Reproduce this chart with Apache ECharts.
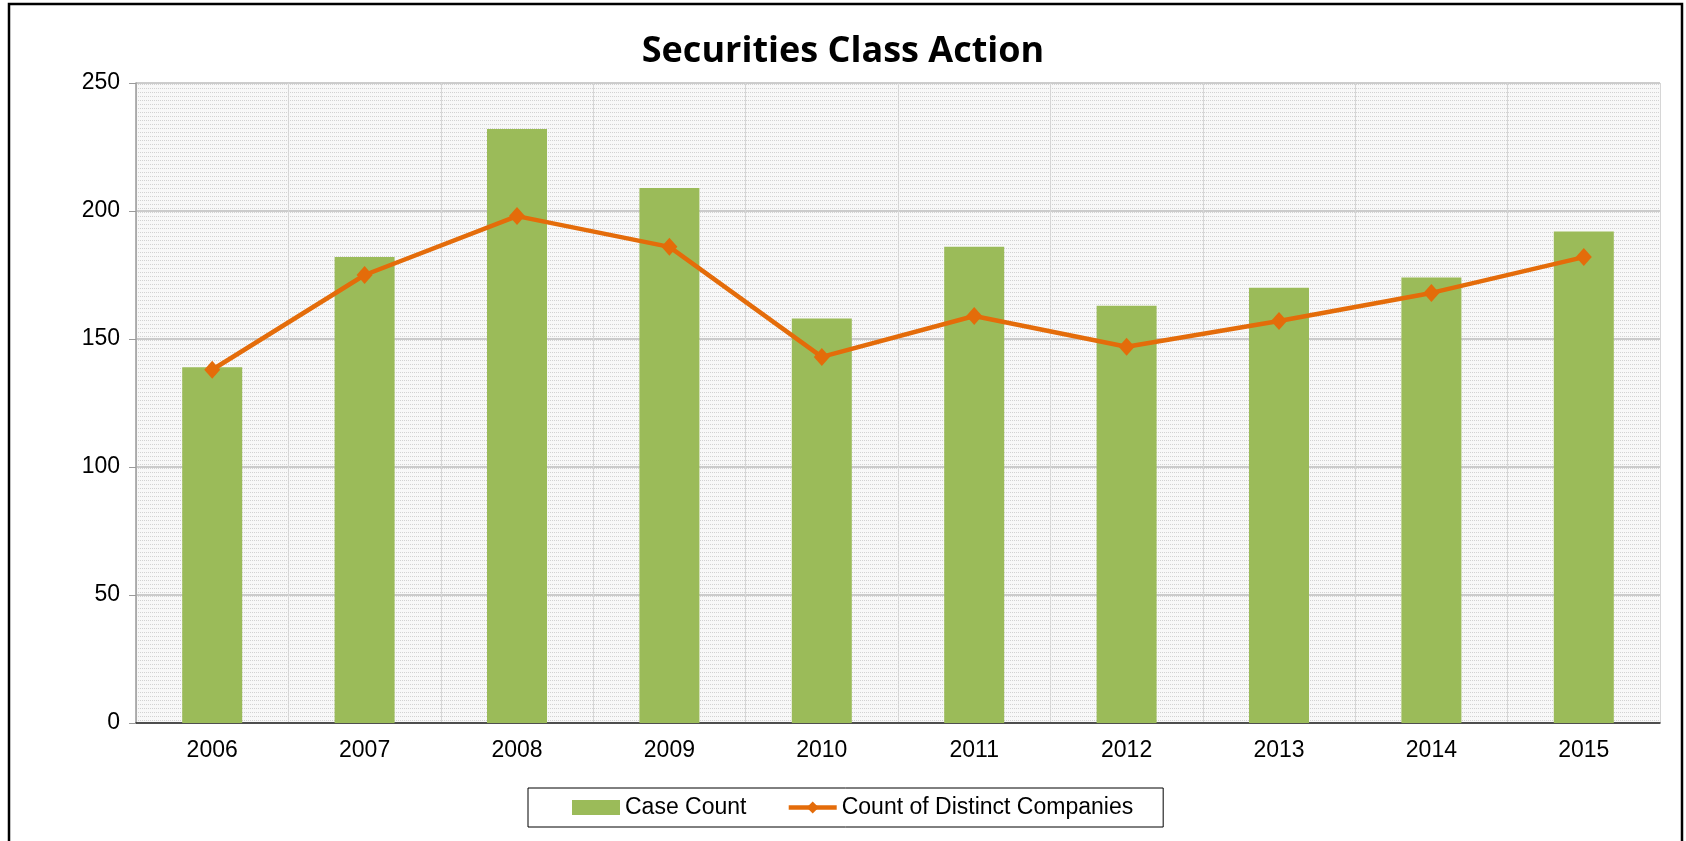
<!DOCTYPE html>
<html>
<head>
<meta charset="utf-8">
<script src="https://cdn.jsdelivr.net/npm/echarts@6/dist/echarts.min.js"></script>
<style>
html,body{margin:0;padding:0;background:#fff;}
#chart{width:1686px;height:841px;}
</style>
</head>
<body>
<div id="chart"></div>
<script>
const years = ['2006','2007','2008','2009','2010','2011','2012','2013','2014','2015'];
const caseCount = [139, 182, 232, 209, 158, 186, 163, 170, 174, 192];
const distinctCompanies = [138, 175, 198, 186, 143, 159, 147, 157, 168, 182];
const yTicks = [0, 50, 100, 150, 200, 250];

// dotted background pattern
const pc = document.createElement('canvas');
pc.width = 4; pc.height = 4;
const ctx = pc.getContext('2d');
ctx.fillStyle = '#f8f8f8';
ctx.fillRect(0, 0, 4, 4);
ctx.fillStyle = '#d2d2d2';
ctx.fillRect(0, 0, 1, 1);
ctx.fillRect(2, 0, 1, 1);

const chart = echarts.init(document.getElementById('chart'));
const font = '"Liberation Sans", Arial, sans-serif';
chart.setOption({
  backgroundColor: '#ffffff',
  animation: false,
  title: {
    text: 'Securities Class Action',
    left: 'center',
    top: 29,
    textStyle: { fontFamily: '"Open Sans", Lato, sans-serif', fontWeight: 'bold', fontSize: 36, color: '#000' }
  },
  graphic: [{
    type: 'rect',
    shape: { x: 9, y: 4, width: 1673, height: 860 },
    style: { fill: null, stroke: '#000', lineWidth: 2.5 },
    silent: true
  }],
  legend: {
    left: 528,
    top: 788,
    orient: 'horizontal',
    padding: [8, 30, 8, 44],
    itemGap: 40,
    itemWidth: 48,
    itemHeight: 15,
    borderColor: '#000',
    borderWidth: 1,
    textStyle: { fontFamily: font, fontSize: 23, color: '#000' },
    data: [
      { name: 'Case Count', icon: 'rect', itemStyle: { color: '#9BBB59' } },
      { name: 'Count of Distinct Companies', lineStyle: { width: 4.5 } }
    ]
  },
  grid: {
    left: 136, right: 26, top: 83, bottom: 118,
    show: true,
    backgroundColor: { image: pc, repeat: 'repeat' },
    borderWidth: 0
  },
  xAxis: {
    type: 'category',
    data: years,
    boundaryGap: true,
    axisLine: { show: true, lineStyle: { color: '#262626', width: 1.5 } },
    axisTick: { show: false },
    axisLabel: { fontFamily: font, fontSize: 23, color: '#000', margin: 16 },
    splitLine: { show: true, lineStyle: { color: '#d6d6d6', width: 1 } }
  },
  yAxis: {
    type: 'value',
    min: yTicks[0],
    max: yTicks[yTicks.length - 1],
    interval: 50,
    axisLine: { show: true, lineStyle: { color: '#9a9a9a', width: 1.5 } },
    axisTick: { show: true, length: 7, lineStyle: { color: '#9a9a9a' } },
    axisLabel: { fontFamily: font, fontSize: 23, color: '#000', margin: 16 },
    splitLine: { show: true, lineStyle: { color: '#bdbdbd', width: 1.5 } }
  },
  series: [
    {
      name: 'Case Count',
      type: 'bar',
      data: caseCount,
      barWidth: 60,
      itemStyle: { color: '#9BBB59' }
    },
    {
      name: 'Count of Distinct Companies',
      type: 'line',
      data: distinctCompanies,
      symbol: 'diamond',
      symbolSize: [16, 18],
      lineStyle: { color: '#E46C0A', width: 4.5 },
      itemStyle: { color: '#E46C0A' },
      z: 5
    }
  ]
});
</script>
</body>
</html>
